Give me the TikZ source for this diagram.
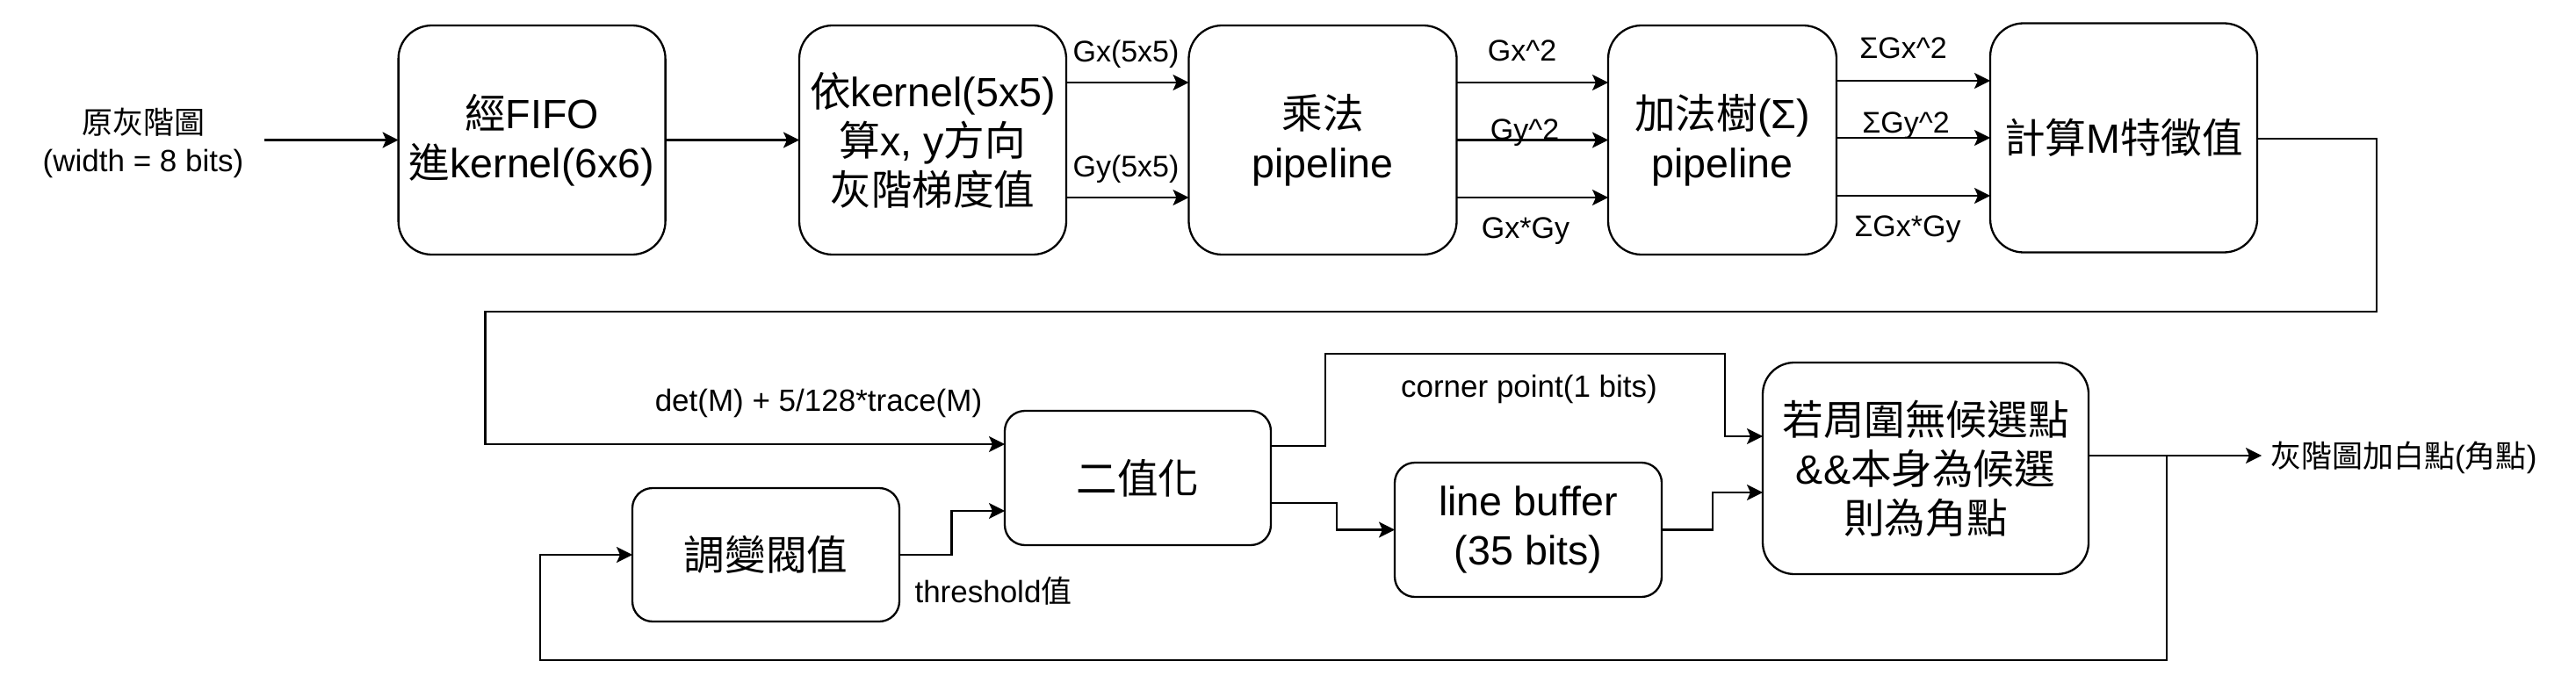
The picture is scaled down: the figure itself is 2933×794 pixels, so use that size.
\documentclass[tikz,border=0pt]{standalone}
\usepackage{fontspec}
\setmainfont{Liberation Sans}
\newfontfamily\cjk{Noto Sans CJK TC}
\usetikzlibrary{arrows.meta}
\newcommand\zhtw[1]{{\cjk #1}}
\newcommand\bigfnt{\fontsize{46.6}{56}\selectfont}
\newcommand\smallfnt{\fontsize{34}{42}\selectfont}
\newcommand\midfnt{\fontsize{35}{43}\selectfont}
\begin{document}
\begin{tikzpicture}[x=1pt,y=-1pt,
  blk/.style={draw, line width=2.3pt, rounded corners=#1, inner sep=0pt, outer sep=0pt, align=center, font=\bigfnt},
  blk/.default=38pt,
  conn/.style={line width=2.3pt, -{Stealth[length=18pt,width=18pt,inset=4pt]}},
  lbl/.style={font=\smallfnt, inner sep=0pt, anchor=base}]
\useasboundingbox (0,0) rectangle (2933,794);

% boxes
\node[blk, minimum width=304pt, minimum height=261pt] (b1) at (605.6,159.5) {\zhtw{經}FIFO\\\zhtw{進}kernel(6x6)};
\node[blk, minimum width=304pt, minimum height=261pt] (b2) at (1062,159.5) {\zhtw{依}kernel(5x5)\\\zhtw{算}x, y\zhtw{方向}\\\zhtw{灰階梯度值}};
\node[blk, minimum width=305pt, minimum height=261pt] (b3) at (1506,159.5) {\zhtw{乘法}\\pipeline};
\node[blk, minimum width=260pt, minimum height=261pt] (b4) at (1961,159.5) {\zhtw{加法樹}(Σ)\\pipeline};
\node[blk, minimum width=304pt, minimum height=261pt] (b5) at (2418,157) {\zhtw{計算}M\zhtw{特徵值}};
\node[blk=23pt, minimum width=303pt, minimum height=153pt] (b6) at (1295.5,544.5) {\zhtw{二值化}};
\node[blk=23pt, minimum width=304pt, minimum height=152pt] (b7) at (872,632) {\zhtw{調變閥值}};
\node[blk=23pt, minimum width=304pt, minimum height=153pt] (b8) at (1740,603.5) {line buffer\\(35 bits)};
\node[blk=36pt, minimum width=371pt, minimum height=241pt] (b9) at (2192.5,533.5) {\zhtw{若周圍無候選點}\\\&\&\zhtw{本身為候選}\\\zhtw{則為角點}};

% input / output text
\node[font=\midfnt, align=center, inner sep=0pt] (inlbl) at (163,163) {\zhtw{原灰階圖}\\(width = 8 bits)};
\node[font=\midfnt, inner sep=0pt, anchor=west] (outlbl) at (2585,521) {\zhtw{灰階圖加白點}(\zhtw{角點})};

% row coordinates
\coordinate (inS) at (301,159.5);
\coordinate (ya) at (0,94);
\coordinate (yc) at (0,225);
\coordinate (yb) at (0,159.5);
\coordinate (yd) at (0,92);
\coordinate (ye) at (0,157);
\coordinate (yf) at (0,223);

\draw[conn] (inS) -- (inS -| b1.west);
\draw[conn] (b1) -- (b2);
\draw[conn] (b2.east |- ya) -- (b3.west |- ya);
\draw[conn] (b2.east |- yc) -- (b3.west |- yc);
\draw[conn] (b3.east |- ya) -- (b4.west |- ya);
\draw[conn] (b3.east |- yb) -- (b4.west |- yb);
\draw[conn] (b3.east |- yc) -- (b4.west |- yc);
\draw[conn] (b4.east |- yd) -- (b5.west |- yd);
\draw[conn] (b4.east |- ye) -- (b5.west |- ye);
\draw[conn] (b4.east |- yf) -- (b5.west |- yf);

% M -> binarize
\coordinate (p1) at (2706,158);
\coordinate (p2) at (2706,355);
\coordinate (p3) at (552.6,355);
\coordinate (p4) at (552.6,506);
\draw[conn] (b5.east |- p1) -- (p1) -- (p2) -- (p3) -- (p4) -- (b6.west |- p4);

% threshold
\coordinate (t1) at (1083.5,632);
\coordinate (t2) at (1083.5,582);
\draw[conn] (b7.east |- t1) -- (t1) -- (t2) -- (b6.west |- t2);

% corner point
\coordinate (c1) at (1509,508);
\coordinate (c2) at (1509,403);
\coordinate (c3) at (1964,403);
\coordinate (c4) at (1964,497);
\draw[conn] (b6.east |- c1) -- (c1) -- (c2) -- (c3) -- (c4) -- (b9.west |- c4);

% to line buffer
\coordinate (d1) at (1522,573);
\coordinate (d2) at (1522,603.5);
\draw[conn] (b6.east |- d1) -- (d1) -- (d2) -- (b8.west |- d2);

% line buffer -> b9
\coordinate (e1) at (1950,603.5);
\coordinate (e2) at (1950,561);
\draw[conn] (b8.east |- e1) -- (e1) -- (e2) -- (b9.west |- e2);

% output
\coordinate (o1) at (2575,519);
\draw[conn] (b9.east |- o1) -- (o1);

% feedback
\coordinate (f1) at (2467,519);
\coordinate (f2) at (2467,752);
\coordinate (f3) at (615,752);
\coordinate (f4) at (615,632);
\draw[conn] (f1) -- (f2) -- (f3) -- (f4) -- (b7.west |- f4);

% labels
\node[lbl] (lgx) at (1282,71) {Gx(5x5)};
\node[lbl] (lgy) at (1282,202) {Gy(5x5)};
\node[lbl] (lgx2) at (1733,70) {Gx\textasciicircum 2};
\node[lbl] (lgy2) at (1736,160) {Gy\textasciicircum 2};
\node[lbl] (lgxy) at (1737,272) {Gx*Gy};
\node[lbl] (sgx2) at (2167,67) {ΣGx\textasciicircum 2};
\node[lbl] (sgy2) at (2170,152) {ΣGy\textasciicircum 2};
\node[lbl] (sgxy) at (2172,270) {ΣGx*Gy};
\node[lbl, font=\midfnt] (ldet) at (932,468) {det(M) + 5/128*trace(M)};
\node[lbl, font=\midfnt] (lcp) at (1741,452) {corner point(1 bits)};
\node[lbl, font=\midfnt] (lth) at (1131,686) {threshold\zhtw{值}};
\end{tikzpicture}
\end{document}
